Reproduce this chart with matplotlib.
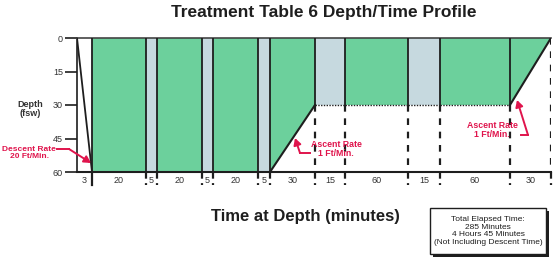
import matplotlib
matplotlib.use("Agg")
import matplotlib.pyplot as plt
from matplotlib.patches import Polygon, Rectangle, FancyArrowPatch
from matplotlib.lines import Line2D

# ---- data ----
durations = [3, 20, 5, 20, 5, 20, 5, 30, 15, 60, 15, 60, 30]
depth_start = [0, 60, 60, 60, 60, 60, 60, 60, 30, 30, 30, 30, 30]
depth_end = [60, 60, 60, 60, 60, 60, 60, 30, 30, 30, 30, 30, 0]
gas = ["descent", "O2", "air", "O2", "air", "O2", "air", "O2", "air", "O2", "air", "O2", "O2"]
depth_ticks = [0, 15, 30, 45, 60]
title = "Treatment Table 6 Depth/Time Profile"
xlabel = "Time at Depth (minutes)"
ylabel = "Depth\n(fsw)"
box_text = "Total Elapsed Time:\n285 Minutes\n4 Hours 45 Minutes\n(Not Including Descent Time)"

# ---- layout (schematic, non-proportional segment widths) ----
seg_widths = [15, 54, 11, 45, 11, 45, 12, 45, 30, 63, 32, 70, 41]

W, H = 553, 258
plt.rcParams["font.family"] = ["Liberation Sans", "DejaVu Sans"]
fig = plt.figure(figsize=(W / 100, H / 100), dpi=100)
fig.patch.set_facecolor("white")
ax = fig.add_axes([77 / W, 1 - 172 / H, (551 - 77) / W, (172 - 38) / H])

GREEN = "#6cd09c"
AIR = "#c6d9df"
DARK = "#1e1e1e"
RED = "#e0144c"

bounds = [0]
for w in seg_widths:
    bounds.append(bounds[-1] + w)
total = bounds[-1]

ax.set_xlim(0, total)
ax.set_ylim(60, 0)

for i, (x0, x1) in enumerate(zip(bounds[:-1], bounds[1:])):
    d0, d1 = depth_start[i], depth_end[i]
    if gas[i] == "descent":
        ax.plot([x0, x1], [d0, d1], color=DARK, lw=1.3, zorder=4)
        continue
    col = GREEN if gas[i] == "O2" else AIR
    ax.add_patch(Polygon([(x0, 0), (x1, 0), (x1, d1), (x0, d0)], closed=True,
                         facecolor=col, edgecolor="none", zorder=1))
    if d0 != d1:
        ax.plot([x0, x1], [d0, d1], color=DARK, lw=1.5, zorder=4)
    else:
        ax.plot([x0, x1], [d0, d1], color=DARK, lw=1.0,
                ls=(0, (1, 1)) if d0 == 30 else "-", zorder=4)

# vertical boundary lines
for j in range(1, len(bounds)):
    x = bounds[j]
    if j < len(durations):
        dep = max(depth_end[j - 1], depth_start[j])
    else:
        dep = 0
    if dep > 0:
        ax.plot([x, x], [0, dep], color=DARK, lw=1.3, zorder=3)
    if dep < 60:
        ax.plot([x, x], [dep, 60], color=DARK, lw=1.6, ls=(0, (3, 3)), zorder=3)
    ax.plot([x, x], [60, 66], color=DARK, lw=1.6, ls="-" if j == 1 else (0, (3, 2)),
            clip_on=False, zorder=3)

# x segment labels
for i, (x0, x1) in enumerate(zip(bounds[:-1], bounds[1:])):
    ax.text((x0 + x1) / 2, 64, str(durations[i]), ha="center", va="center",
            fontsize=6.5, color="#333333")

# axes styling
ax.spines["right"].set_visible(False)
ax.spines["top"].set_color("#444444")
ax.spines["top"].set_linewidth(1.2)
ax.spines["bottom"].set_color(DARK)
ax.spines["bottom"].set_linewidth(1.5)
ax.spines["left"].set_color(DARK)
ax.spines["left"].set_linewidth(1.2)
ax.set_xticks([])
ax.set_yticks(depth_ticks)
ax.set_yticklabels([str(t) for t in depth_ticks], fontsize=6.5, color="#333333")
ax.tick_params(axis="y", length=8.5, width=1.2, color=DARK, pad=1.5)
ax.set_facecolor("white")

fig.text(324 / W, 1 - 12 / H, title, ha="center", va="center", fontsize=12.5,
         fontweight="bold", color=DARK)
fig.text(305 / W, 1 - 217 / H, xlabel, ha="center", va="center", fontsize=12,
         fontweight="bold", color=DARK)
fig.text(30 / W, 1 - 109 / H, ylabel, ha="center", va="center", fontsize=6.5,
         fontweight="bold", color="#333333", linespacing=1.1)


def fp(x, y):
    return (x / W, 1 - y / H)


def red_arrow(points):
    xs = [p[0] / W for p in points[:-1]]
    ys = [1 - p[1] / H for p in points[:-1]]
    fig.add_artist(Line2D(xs, ys, color=RED, lw=1.4, transform=fig.transFigure))
    fig.add_artist(FancyArrowPatch(
        fp(*points[-2]), fp(*points[-1]), transform=fig.transFigure,
        arrowstyle="-|>,head_length=4,head_width=2.2", color=RED, lw=1.4,
        shrinkA=0, shrinkB=0))


fig.text(*fp(29, 153), "Descent Rate\n20 Ft/Min.", ha="center", va="center",
         fontsize=6.0, fontweight="bold", color=RED, linespacing=1.15)
red_arrow([(57, 149), (69, 149), (91, 163)])

fig.text(*fp(336, 149), "Ascent Rate\n1 Ft/Min.", ha="center", va="center",
         fontsize=6.3, fontweight="bold", color=RED, linespacing=1.1)
red_arrow([(310, 153), (300, 153), (295, 138)])

fig.text(*fp(492, 130), "Ascent Rate\n1 Ft/Min.", ha="center", va="center",
         fontsize=6.3, fontweight="bold", color=RED, linespacing=1.1)
red_arrow([(521, 135), (528, 135), (517, 100)])

# elapsed time box with shadow
bx0, by0, bx1, by1 = 430, 208, 546, 254
fig.patches.append(Rectangle(fp(bx0 + 3, by1 + 3), (bx1 - bx0) / W, (by1 - by0) / H,
                             transform=fig.transFigure, facecolor=DARK, edgecolor="none", zorder=1))
fig.patches.append(Rectangle(fp(bx0, by1), (bx1 - bx0) / W, (by1 - by0) / H,
                             transform=fig.transFigure, facecolor="white", edgecolor=DARK,
                             lw=1.0, zorder=2))
fig.text(*fp((bx0 + bx1) / 2, (by0 + by1) / 2), box_text, ha="center", va="center",
         fontsize=6, color=DARK, linespacing=1.15, zorder=3)

fig.savefig("out.png", dpi=100)
